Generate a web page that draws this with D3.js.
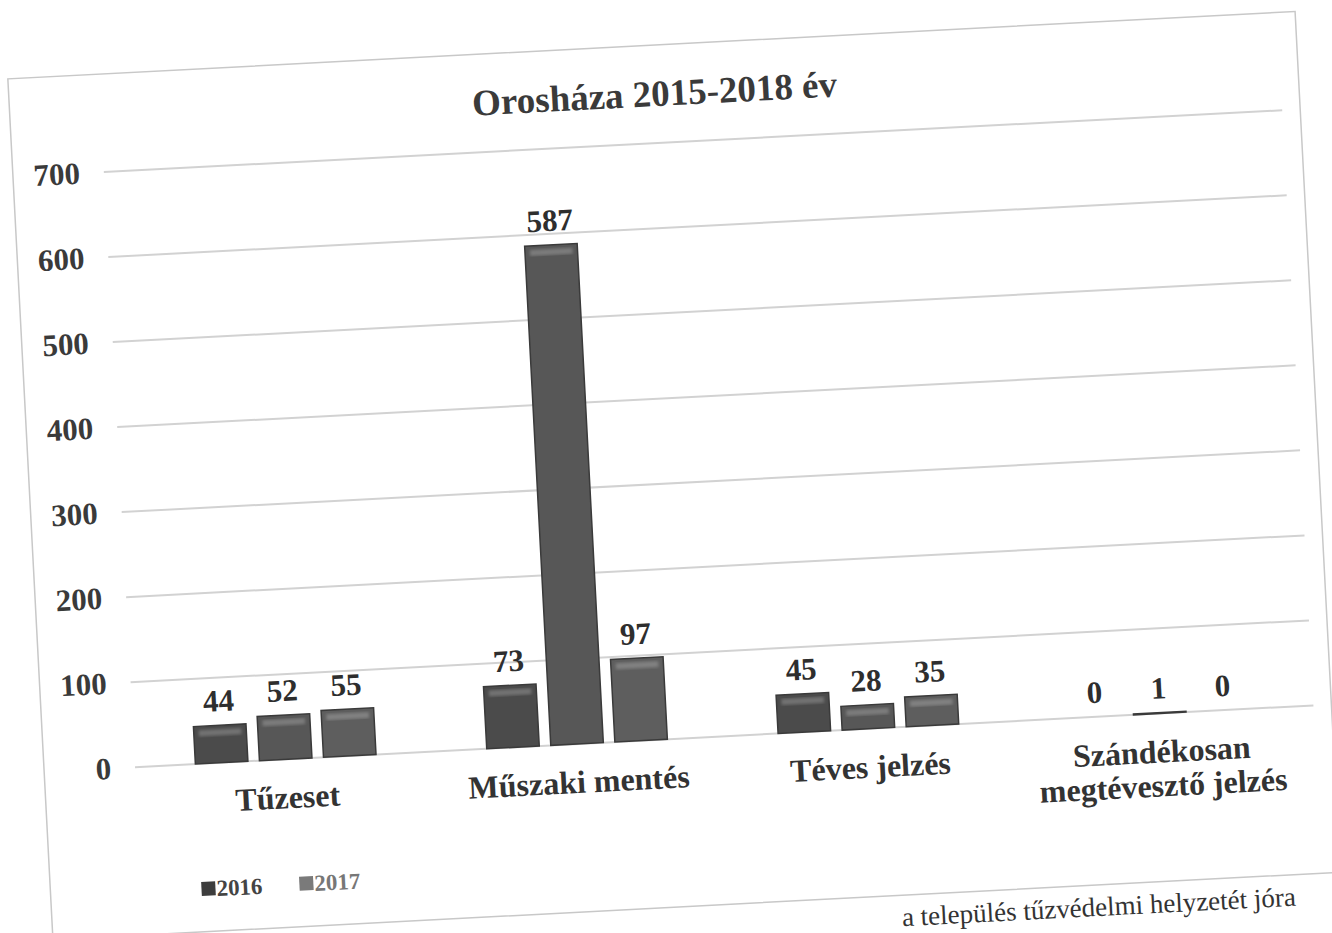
<!DOCTYPE html>
<html>
  <head>
    <meta charset="utf-8">
    <title>Orosháza 2015-2018 év</title>
    <script src="https://d3js.org/d3.v7.min.js"></script>
    <style>
      body { margin: 0; background: #fff; }
      text { font-family: "Liberation Serif", "DejaVu Serif", serif; font-weight: bold; }
    </style>
  </head>
  <body>
    <svg width="1332" height="933"></svg>
    <script>
      // data
      const categories = ['Tűzeset', 'Műszaki mentés', 'Téves jelzés', 'Szándékosan megtévesztő jelzés'];
      const series = ['2016', '2017', '2018'];
      const values2016 = [44, 73, 45, 0];
      const values2017 = [52, 587, 28, 1];
      const values2018 = [55, 97, 35, 0];
      const legendItems = ['2016', '2017']; // only these two are visible on the scan
      const yTicks = [0, 100, 200, 300, 400, 500, 600, 700];

      const table = categories.map((c, i) => ({
        cat: c,
        vals: [values2016[i], values2017[i], values2018[i]]
      }));

      const colors = ['#4b4b4b', '#575757', '#5e5e5e'];
      const legendColors = ['#3d3d3d', '#7a7a7a'];

      const svg = d3.select('svg');
      const defs = svg.append('defs');
      const blur = defs.append('filter').attr('id', 'soft');
      blur.append('feGaussianBlur').attr('stdDeviation', 1.6);

      // the scanned page sits slightly tilted
      const g = svg.append('g').attr('transform', 'rotate(-3, 666, 466)');

      // chart frame
      g.append('rect')
          .attr('x', 29).attr('y', 45)
          .attr('width', 1289).attr('height', 862)
          .attr('fill', 'none')
          .attr('stroke', '#c8c8c8')
          .attr('stroke-width', 1.5);

      const x0 = d3.scaleBand().domain(categories).range([125, 1292])
          .paddingInner(0.38).paddingOuter(0.19);
      const x1 = d3.scaleBand().domain(series).range([0, x0.bandwidth()])
          .paddingInner(0.18).paddingOuter(0);
      const y = d3.scaleLinear().domain([0, 700]).range([739, 143]);

      // gridlines
      g.append('g').selectAll('line').data(yTicks).join('line')
          .attr('x1', 120).attr('x2', 1300)
          .attr('y1', d => y(d)).attr('y2', d => y(d))
          .attr('stroke', '#d2d2d2')
          .attr('stroke-width', 2);

      // y axis labels
      const yAxis = g.append('g')
          .attr('transform', 'translate(120,0)')
          .call(d3.axisLeft(y).tickValues(yTicks).tickSize(0).tickPadding(24));
      yAxis.select('.domain').remove();
      yAxis.selectAll('text')
          .attr('font-size', 31)
          .attr('font-family', '"Liberation Serif", serif')
          .attr('font-weight', 'bold')
          .attr('fill', '#3a3a3a');

      // title
      g.append('text')
          .attr('x', 674).attr('y', 106)
          .attr('text-anchor', 'middle')
          .attr('font-size', 37)
          .attr('fill', '#3a3a3a')
          .text('Orosháza 2015-2018 év');

      // bars
      const groups = g.append('g').selectAll('g').data(table).join('g')
          .attr('transform', d => `translate(${x0(d.cat)},0)`);

      const bars = groups.selectAll('g').data(d => d.vals.map((v, i) => ({ s: series[i], v, i })))
          .join('g');

      bars.append('rect')
          .attr('x', d => x1(d.s))
          .attr('y', d => y(d.v))
          .attr('width', x1.bandwidth())
          .attr('height', d => y(0) - y(d.v))
          .attr('fill', d => colors[d.i])
          .attr('stroke', d => d.v > 0 ? '#3a3a3a' : 'none')
          .attr('stroke-width', 1.5);

      // bevel highlight near the top of each bar
      bars.filter(d => d.v > 10).append('rect')
          .attr('x', d => x1(d.s) + 5)
          .attr('y', d => y(d.v) + 4)
          .attr('width', x1.bandwidth() - 10)
          .attr('height', 6)
          .attr('fill', '#ffffff')
          .attr('opacity', 0.22)
          .attr('filter', 'url(#soft)');

      // value labels
      bars.append('text')
          .attr('x', d => x1(d.s) + x1.bandwidth() / 2)
          .attr('y', d => y(d.v) - 14)
          .attr('text-anchor', 'middle')
          .attr('font-size', 31)
          .attr('fill', '#2e2e2e')
          .text(d => d.v);

      // category labels
      const catLabels = g.append('g').selectAll('text').data(categories).join('text')
          .attr('x', d => x0(d) + x0.bandwidth() / 2)
          .attr('y', 788)
          .attr('text-anchor', 'middle')
          .attr('font-size', 32)
          .attr('fill', '#333');
      catLabels.each(function (d) {
        const lines = d.length > 20 ? [d.slice(0, d.indexOf(' ')), d.slice(d.indexOf(' ') + 1)] : [d];
        d3.select(this).selectAll('tspan').data(lines).join('tspan')
            .attr('x', x0(d) + x0.bandwidth() / 2)
            .attr('dy', (l, i) => i === 0 ? 0 : 34)
            .text(l => l);
      });

      // legend
      const legend = g.append('g').attr('transform', 'translate(180,872)');
      const li = legend.selectAll('g').data(legendItems).join('g')
          .attr('transform', (d, i) => `translate(${i * 98},0)`);
      li.append('rect')
          .attr('x', 0).attr('y', -15)
          .attr('width', 14).attr('height', 14)
          .attr('fill', (d, i) => legendColors[i]);
      li.append('text')
          .attr('x', 15).attr('y', 0)
          .attr('font-size', 23)
          .attr('fill', (d, i) => i === 0 ? '#444' : '#777')
          .text(d => d);

      // fragment of the page text under the chart
      g.append('text')
          .attr('x', 878).attr('y', 938)
          .attr('font-size', 27)
          .style('font-weight', 'normal')
          .attr('fill', '#333')
          .text('a település tűzvédelmi helyzetét jóra');
    </script>
  </body>
</html>
